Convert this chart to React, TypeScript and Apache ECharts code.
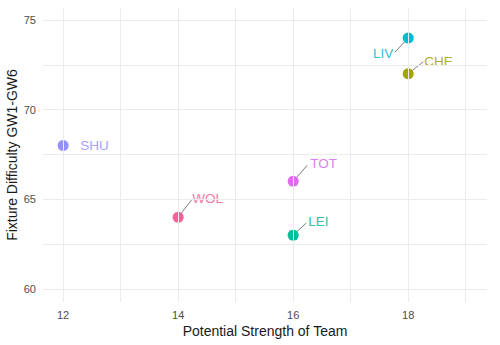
import React, { useEffect, useRef } from "react";
import * as echarts from "echarts";

const teams = ["SHU", "WOL", "TOT", "LEI", "LIV", "CHE"];
const strength = [12, 14, 16, 16, 18, 18];
const difficulty = [68, 64, 66, 63, 74, 72];
const teamColors = ["#9590FF", "#F8629A", "#E26CF0", "#00BE9C", "#00BCCF", "#A3A500"];
const labelColors = ["#A6A2FF", "#F478A6", "#E07EF0", "#2EC3A6", "#2EC2D2", "#ADAE2A"];

const xTicks = [12, 14, 16, 18];
const xGrid = [12, 13, 14, 15, 16, 17, 18, 19];
const yTicks = [60, 65, 70, 75];
const yGrid = [60, 62.5, 65, 67.5, 70, 72.5, 75];

const xTitle = "Potential Strength of Team";
const yTitle = "Fixture Difficulty GW1-GW6";

// label layout (pixel offsets from point center), not data
type LL = { dx: number; dy: number; align: string; seg: [number, number] | null };
const labelLayout: Record<string, LL> = {
  SHU: { dx: 17, dy: 0, align: "left", seg: null },
  WOL: { dx: 14, dy: -19, align: "left", seg: [14, -18] },
  TOT: { dx: 17, dy: -18, align: "left", seg: [14, -16] },
  LEI: { dx: 15, dy: -14, align: "left", seg: [13, -12] },
  LIV: { dx: -15, dy: 16, align: "right", seg: [-13, 14] },
  CHE: { dx: 16, dy: -12, align: "left", seg: [15, -12] },
};

const FONT = "'Liberation Sans', Arial, sans-serif";

export default function App() {
  const ref = useRef<HTMLDivElement>(null);
  useEffect(() => {
    if (!ref.current) return;
    const chart = echarts.init(ref.current, undefined, { renderer: "svg" });
    const gridLine = { color: "#ebebeb", width: 1, type: "solid" as const };
    const points = teams.map((t, i) => [strength[i], difficulty[i]]);
    chart.setOption({
      animation: false,
      backgroundColor: "#ffffff",
      grid: {
        left: 43,
        right: 13,
        top: 8,
        bottom: 43,
        containLabel: false,
        outerBoundsMode: "none",
      },
      graphic: [
        {
          type: "text",
          x: 12,
          y: 155,
          rotation: Math.PI / 2,
          style: {
            text: yTitle,
            fill: "#1a1a1a",
            font: `14px ${FONT}`,
            align: "center",
            verticalAlign: "middle",
          },
        },
      ],
      xAxis: {
        type: "value",
        min: 11.65,
        max: 19.37,
        name: xTitle,
        nameLocation: "middle",
        nameGap: 22,
        nameMoveOverlap: false,
        nameTextStyle: { color: "#1a1a1a", fontSize: 14, fontFamily: FONT },
        axisLine: { show: false },
        axisTick: { show: false },
        splitLine: { show: false },
        axisLabel: {
          customValues: xTicks,
          color: "#4d4d4d",
          fontSize: 11,
          fontFamily: FONT,
          margin: 7,
        },
      },
      yAxis: {
        type: "value",
        min: 59.27,
        max: 75.67,
        axisLine: { show: false },
        axisTick: { show: false },
        splitLine: { show: false },
        axisLabel: {
          customValues: yTicks,
          color: "#4d4d4d",
          fontSize: 11,
          fontFamily: FONT,
          margin: 7,
        },
      },
      series: [
        {
          type: "scatter",
          symbolSize: 11,
          silent: true,
          z: 1,
          data: [],
          markLine: {
            silent: true,
            symbol: "none",
            label: { show: false },
            lineStyle: gridLine,
            data: [
              ...xGrid.map((v) => ({ xAxis: v })),
              ...yGrid.map((v) => ({ yAxis: v })),
            ],
          },
        },
        {
          type: "custom",
          z: 2,
          silent: true,
          encode: { x: 0, y: 1 },
          data: points,
          renderItem: (params: any, api: any) => {
            const i = params.dataIndex;
            const t = teams[i];
            const l = labelLayout[t];
            const p = api.coord([api.value(0), api.value(1)]);
            const children: any[] = [];
            if (l.seg) {
              const ex = l.seg[0];
              const ey = l.seg[1];
              const len = Math.sqrt(ex * ex + ey * ey);
              const r = 5.5;
              children.push({
                type: "line",
                shape: {
                  x1: p[0] + (ex / len) * r,
                  y1: p[1] + (ey / len) * r,
                  x2: p[0] + ex,
                  y2: p[1] + ey,
                },
                style: { stroke: "#6e6e6e", lineWidth: 0.9 },
              });
            }
            children.push({
              type: "text",
              x: p[0] + l.dx,
              y: p[1] + l.dy,
              style: {
                text: t,
                fill: labelColors[i],
                font: `13.5px ${FONT}`,
                align: l.align,
                verticalAlign: "middle",
              },
            });
            return { type: "group", children };
          },
        },
        {
          type: "scatter",
          symbolSize: 11,
          z: 3,
          data: points.map((v, i) => ({
            name: teams[i],
            value: v,
            itemStyle: { color: teamColors[i], opacity: 1 },
          })),
        },
      ],
    });
    return () => chart.dispose();
  }, []);
  return (
    <div
      ref={ref}
      style={{ position: "absolute", left: 0, top: 0, width: 500, height: 345 }}
    />
  );
}
